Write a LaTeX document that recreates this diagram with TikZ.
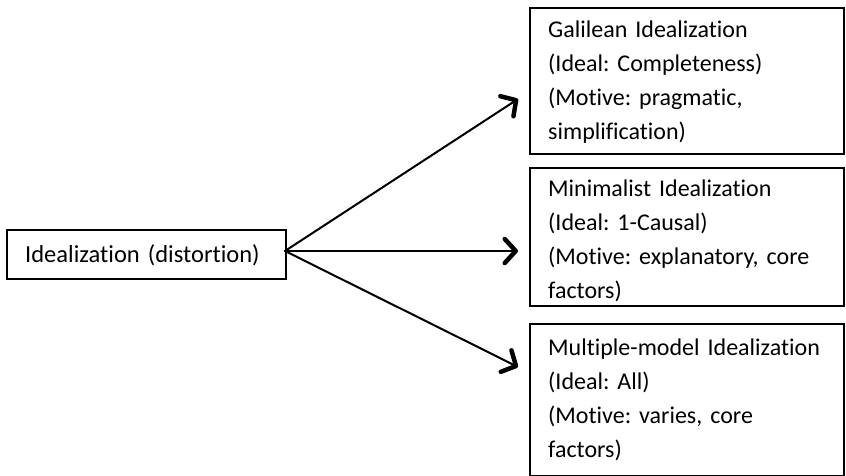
\documentclass[tikz,border=0pt]{standalone}
\usepackage{fontspec}
\setmainfont{Carlito}[RawFeature=-liga]
\usetikzlibrary{arrows.meta,calc}
\frenchspacing
\begin{document}
\begin{tikzpicture}[x=1pt,y=-1pt,
  boxs/.style={draw=black,line width=1.8pt,inner sep=0pt,anchor=north west},
  txt/.style={inner sep=0pt,anchor=base west,text width=300pt,align=left,
    font=\fontsize{24}{34}\selectfont},
  conn/.style={line width=2pt,line cap=round,-{Straight Barb[length=11pt,width=24pt,line width'=4.5pt,round]}}]
\useasboundingbox (0,0) rectangle (846,476);
% boxes
\node[boxs,minimum width=279pt,minimum height=49pt] (l) at (6,229) {};
\node[boxs,minimum width=314pt,minimum height=146pt] (g) at (529,7) {};
\node[boxs,minimum width=314pt,minimum height=138pt] (m) at (529,167) {};
\node[boxs,minimum width=314pt,minimum height=152pt] (u) at (529,323) {};
% texts
\node[txt,font=\fontsize{24.5}{34}\selectfont] (lt) at (25,262) {Idealization (distortion)};
\node[txt] (gt) at (548,38) {Galilean Idealization\\(Ideal: Completeness)\\(Motive: pragmatic,\\simplification)};
\begin{scope}
\clip (530,168) rectangle (842,302);
\node[txt] (mt) at (548,196) {Minimalist Idealization\\(Ideal: 1-Causal)\\(Motive: explanatory, core\\factors)};
\end{scope}
\node[txt] (ut) at (548,355) {Multiple-model Idealization\\(Ideal: All)\\(Motive: varies, core\\factors)};
% arrow ends
\coordinate (ge) at (518,99);
\coordinate (me) at (518,251);
\coordinate (ue) at (518,367);
\coordinate (ls) at (285,251);
\draw[conn] (ls) -- (ge);
\draw[conn] (ls) -- (me);
\draw[conn] (ls) -- (ue);
\end{tikzpicture}
\end{document}
